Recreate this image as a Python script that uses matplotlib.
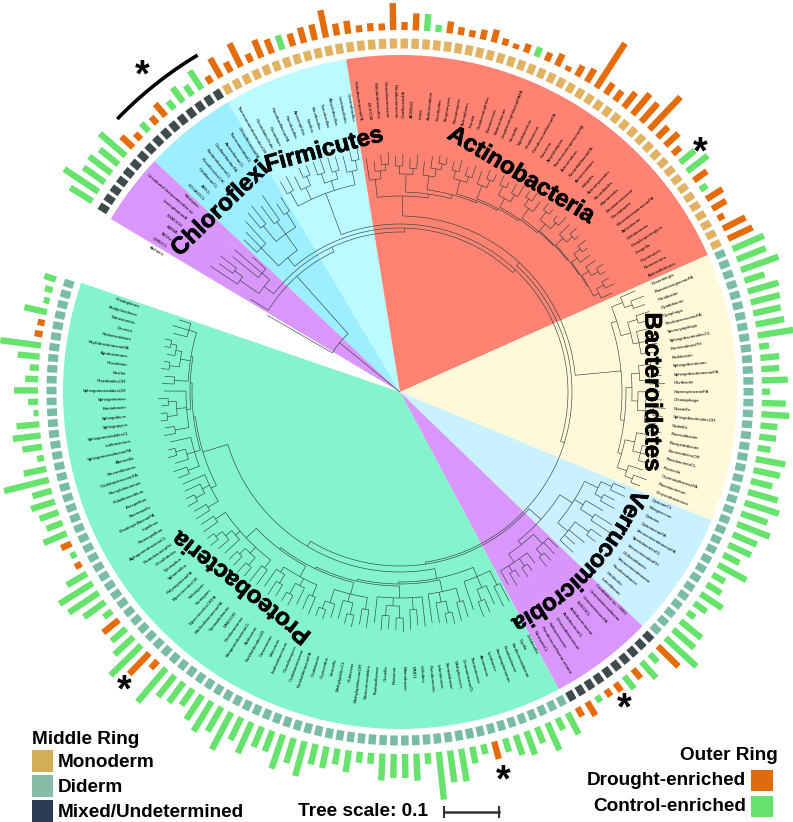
#!/usr/bin/env python3
import numpy as np
import matplotlib
matplotlib.use("Agg")
import matplotlib.pyplot as plt
import matplotlib.patheffects as pe
from matplotlib.collections import LineCollection
from matplotlib.font_manager import FontProperties
from matplotlib.patches import Polygon, Rectangle
from matplotlib.textpath import text_to_path

plt.rcParams['font.family'] = ['Liberation Sans', 'DejaVu Sans']

# ring geometry (pixels, degrees)
CX, CY = 400, 392
WEDGE_R = 337
FIRST_ANGLE = 148.2
STEP = 1.785

clade_names = ["Archaeal", "Chloroflexi", "Firmicutes", "Actinobacteria", "Bacteroidetes",
               "Verrucomicrobia", "Other", "Proteobacteria"]
clade_edges = [149.1, 136.7, 120.7, 99.2, 24.0, -22.4, -44.0, -61.9, -198.9]
clade_colors = ["#D997FB", "#9CEFFF", "#B9FBFF", "#FE8373", "#FFF8D9", "#CAF1FF", "#D997FB", "#83F4CC"]

ring_kinds = ["mixed", "mono", "di", "mixed", "di"]
ring_counts = [16, 54, 38, 10, 77]
ring_colors = {"mixed": "#3E4A4C", "mono": "#E2B263", "di": "#78BCA4"}

# outer ring, bar length in pixels: positive control-enriched, negative drought-enriched
bars_a = [26, 41, 26, 28, 24, 34, -16, -8, 11, -9, -16, 10, 18, 12, 22, -8, -22, -11, -26, -9,
          -19, -15, 15, -13, -16, -16, -28, -12, -13, -7, -8, -7, -27, -8, -17, 17, 7, -12, -8, -7,
          -10, -13, -7, -5, -9, 10, -9, -13, -5, -12, -15, -53, -13, -12, -19, -27, -25, -45, -15, -18]
bars_b = [-10, 19, 26, -16, 8, -19, -16, -7, -25, -27, 34, 31, 40, 21, 32, 30, 28, 29, 36, 10,
          19, 18, 26, 8, 24, 28, 17, 17, 13, 30, 27, 22, 31, 36, 28, 35, 26, 25, 18, 32,
          14, 17, 26, 15, 9, 27, 28, 42, -29, 11, 22, -12, 16, -10, -8, 7, -16, -10, 24, 13]
bars_c = [30, 17, 25, 21, 14, -18, 10, 17, 33, 32, 48, 11, 27, 24, 24, 27, 11, 11, 22, 16,
          22, 21, 36, 26, 36, 22, 22, 34, 25, 42, 28, 35, 29, 20, 25, 27, 44, -10, -29, 43,
          26, 19, -20, 10, 26, 36, 39, 23, -7, 6, -11, 25, 17, 20, 25, 20, 46, 23, 7, 20,
          28, 23, 5, 10, 24, 13, 9, 22, 41, -8, -7, 23, 6, 8, 12]
bar_lengths = bars_a + bars_b + bars_c

outgroup_label = "Archaea"
labels_other = ["CM02CL", "TACKa", "AJMIA", "EXMOCH", "LentisphaeraeA", "Uncultured Verrucomicrobia sp", "Nitrospira"]
labels_chloroflexi = ["SOGA31CL", "ARICL", "CaldilineaeCL", "RoseiflexalesOR", "KtedonobacteriaCL", "OscillochloridaeFA",
                      "AnaerolineaeCL", "ThermomicrobiaCL", "ChloroflexaceaeFA"]
labels_firmicutes = ["ThermoanaerobacteralesOR", "ClostridialesOrder", "Clostridium", "PaenibacillaceaeFA",
                     "Paenibacillus", "Ammoniphilus", "Bacillus", "Brevibacillus", "Tumebacillus", "Alicyclobacillus",
                     "Lactobacillales", "Oceanobacillus"]
labels_actino = ["RubrobacteraceaeFA", "MC47CM", "Solirubrobacterales", "Conexibacteraceae", "Patulibacteraceae",
                 "GaiellaceaeFA", "AKIW543", "Iamia", "Acidimicrobium", "Euzebyales", "Streptomyces", "Kitasatospora",
                 "Actinoplanes", "Frankia", "Geodermatophilus", "Blastococcus", "Modestobacter",
                 "GeodermatophilaceaeFAFA", "Nocardia", "Mycobacterium", "Rhodococcus", "PseudonocardiaceaeFA",
                 "Kutzneria", "Amycolatopsis", "ThermomonosporaceaeFA", "Actinomadura", "NocardioidaceaeFA",
                 "Aeromicrobium", "Kribbella", "Actinomycetales", "Nocardioides", "Marmoricola", "Microbacteriaceae",
                 "Pimelobacter", "MicromonosporaceaeFA", "Arthrobacter", "Cellulomonas", "Dactylosporangium",
                 "Jiangella", "Glycomyces", "Nonomuraea", "Actinoallomurus"]
labels_bacteroidetes = ["Rosenbergia", "FlammeovirgaceaeFA", "Pontibacter", "Dyadobacter", "Cytophaga",
                        "FlexibacteraceaeFA", "Sporocytophaga", "SphingobacterialesCL", "BacteroidetesPH", "Pedobacter",
                        "Sphingobacterium", "SphingobacteriaceaeFA", "Olivibacter", "SaprospiraceaeFA", "Chitinophaga",
                        "Niastella", "SphingobacterialesOR", "Niabella", "Flavisolibacter", "Flavipedobacter",
                        "BacteroidalesOR", "FlavobacteriaCL", "Fluviicola", "CryomorphaceaeFA", "Flavobacterium",
                        "Chryseobacterium"]
labels_verruco = ["OpitutaeCL", "Pelagicoccus", "Opitutus", "OpitutaceaeFA", "VerrucomicrobiaceaeFA", "SpartobacteriaCL",
                  "VerrucomicrobiaPH", "Chthoniobacter", "Verrucomicrobiaceae", "Prosthecobacter", "Haloferula", "Luteolibacter"]
labels_other2 = ["Candidatus sp. CM03", "Gemmatimonadaceae", "GemmatimonasFA", "NKB19CL", "Acidobacteriaceae",
                 "AcidobacteriaCL", "Chloracidobacterium", "Solibacteraceae", "Pseudonocardiaceae-related", "NitrospiraCL"]
labels_proteo = ["Dokdonella", "Dyella", "Xanthomonadaceae", "Rhodanobacter", "Stenotrophomonas", "Lysobacter",
                 "Arenimonas", "Thermomonas", "ChromatiaceaeCL", "Methylococcus", "Steroidobacter", "Lebetimonas",
                 "Pseudomonas", "Cellvibrio", "MND1", "Marinobacter", "Ralstonia", "Coxiella", "Thiobacillaceae",
                 "Nitrosomonadales", "MethylophilaceaeOR", "Rubrivivax", "MethylophilusCL", "Ideonella", "Cupriavidus",
                 "Oxalobacter", "BurkholderiaceaeFA", "Oxalobacteraceae", "Chondromyces", "Janthinobacterium",
                 "Variovorax", "Comamonas", "BurkholderialesOR", "Acidovorax", "BetaproteobacteriaCL", "Dechloromonas",
                 "MND1OR", "Syntrophobacter", "BdellovibrionaceaeFA", "MyxococcalesORFA", "Sorangium", "Haliangium",
                 "MyxococcalesOR", "PolyangiaceaeFA", "Sphaerotilus", "Syntrophus", "Desulfobulus", "ProteobacteriaPH",
                 "AlphaproteobacteriaCL", "Phaeospirillum", "Inquilinus", "RhodospirillaceaeFA", "Skermanella",
                 "Azospirillum", "Rubellimicrobium", "Phenylobacterium", "CaulobacteraceaeFA", "Brevundimonas",
                 "Altererella", "SphingomonadaceaeFA", "Lutibacterium", "SphingomonadalesCL", "Sphingopyxis",
                 "Sphingobium", "Kaistobacter", "Sphingomonas", "SphingomonadalesOR", "RhizobialesOR", "Ensifer",
                 "Rhizobium", "Agrobacterium", "PhyllobacteriaceaeFA", "Pedomicrobium", "Devosia", "Balneimonas",
                 "Bradyrhizobium", "Rhodoplanes"]
leaf_labels = (labels_other + labels_chloroflexi + labels_firmicutes + labels_actino + labels_bacteroidetes
               + labels_verruco + labels_other2 + labels_proteo)

# tree as nested lists: [node radius, child, child, ...], a bare number is a leaf tip radius
tree_other = [172, [195, 228, [205, 222, 225]], [182, 215, 218, 200]]
tree_chloroflexi = [175, [200, 218, 222, 230], [195, [215, 235, 238], [210, 232, 240], [212, 225, 228]]]
tree_firmicutes = [178, [212, [228, 242, 244], [225, 240, [235, 246, 245]], [222, [232, 246, 247], [230, 245, 244]],
                         [226, 243, [236, 246, 248]]]]
tree_actino = [196, [214, 236, [222, 232, [228, 238, 240]]],
               [200, [218, [226, 236, 238], [224, 234, 238]],
                [204, [218, 232, [226, 238, [232, 240, 239]]],
                 [206, [220, [228, 237, 240], [226, 235, 239]],
                  [208, [222, 236, [230, 240, 238]],
                   [210, [220, [230, 240, 236], [228, 238, 241]],
                    [212, [224, [232, 239, 241], 236],
                     [213, [222, [232, 240, 238], [230, 236, 241]],
                      [214, [224, 238, [232, 241, 237]],
                       [215, [222, [230, 240, 236], 234],
                        [216, [224, 236, [232, 240, 238]], [222, [230, 238, 240], 234]]]]]]]]]]]]
tree_bacteroidetes = [222,
                      [228, [240, 256, [248, 262, 260]], [238, [248, 262, 258], [244, 258, [252, 264, 262], 256]]],
                      [226, [232, [240, [252, 264, 262], [250, 262, 265]], [238, 260, [246, 262, [254, 266, 264], 258]]],
                       [230, [240, [250, 264, 262], [248, 260, 266, 258]], [240, 255, [248, 262, 258]]]]]
tree_verruco = [205, [220, [232, 245, 248], [228, 240, 244]], [215, 235, [230, 250, 252]],
                [218, [235, 248, 246], 238, 232, 236]]
tree_other2 = [195, [208, 222, 224, [216, 226, 228]], [205, 218, [214, 222, 225], [212, 220, 226], 221]]
tree_proteo_a = [190, [200, [216, 236, 238], [212, 232, [224, 238, 240]], 230],
                 [192, [204, [218, 235, 237], [214, [226, 238, 236], 234], 233],
                  [194, [206, 236, [218, 234, 238], [214, [226, 240, 238], [224, 237, 239]], 232],
                   [196, [208, [220, 238, 236], [216, [228, 240, 238], 235], [222, 236, [230, 240, 239]]],
                    [198, [210, [222, 240, 238], [218, 236, [230, 241, 240]], [216, [226, 239, 242], 237]],
                     [212, [222, 240, 242], [220, [230, 241, 243], [228, 240, 239]],
                      [218, 238, [226, 240, [234, 244, 242]]], [224, 241, 239]]]]]]]
tree_proteo_b = [206, [212, [224, 240, 238], [220, [230, 241, 239], 237], 236],
                 [208, [214, [226, 238, 240], [222, 236, [232, 241, 239]], 235],
                  [210, [214, [228, 240, 238], [224, [234, 241, 240], [232, 239, 242]], 236],
                   [212, [226, 238, 236], [222, [232, 240, 238], [228, 236, [234, 240, 241]]], [220, 234, 237, 232]]]]]
tree = [78, 153,
        [155, 176,
         [160, tree_other,
          [164, tree_chloroflexi,
           [168, tree_firmicutes,
            [172, [176, tree_actino, tree_bacteroidetes],
             [174, [190, tree_verruco, tree_other2], [180, tree_proteo_a, tree_proteo_b]]]]]]]]

stars = [(142, 76), (700, 153), (624, 709), (124, 691), (503, 781)]
big_labels = [("Actinobacteria", 521, 175, -31), ("Firmicutes", 324, 150, 15), ("Chloroflexi", 220, 209, 44),
              ("Bacteroidetes", 652, 392, -90), ("Proteobacteria", 242, 587, 142)]
BIG_STROKE = [pe.withStroke(linewidth=0.5, foreground='black')]


def pol(r, deg):
    t = np.radians(deg)
    return CX + r * np.cos(t), CY - r * np.sin(t)


def leaf_angle(i):
    return FIRST_ANGLE - STEP * i


fig = plt.figure(figsize=(7.93, 8.22), dpi=100)
ax = fig.add_axes([0, 0, 1, 1])
ax.set_xlim(0, 793)
ax.set_ylim(822, 0)
ax.axis('off')

# clade wedges
for i, color in enumerate(clade_colors):
    arc = np.linspace(clade_edges[i], clade_edges[i + 1], 80)
    pts = [(CX, CY)] + [pol(WEDGE_R, a) for a in arc]
    ax.add_patch(Polygon(pts, closed=True, fc=color, ec='none', zorder=1))

# tree
tree_lines = []
guide_lines = []
leaf_counter = [-1]


def draw_node(node, parent_r):
    if not isinstance(node, list):
        a = leaf_angle(leaf_counter[0])
        leaf_counter[0] += 1
        tree_lines.append([pol(parent_r, a), pol(node, a)])
        guide_lines.append([pol(node, a), pol(272, a)])
        return a
    r = node[0]
    child_a = [draw_node(c, r) for c in node[1:]]
    a = (child_a[0] + child_a[-1]) / 2
    arc = np.linspace(child_a[0], child_a[-1], max(3, int(abs(child_a[0] - child_a[-1])) + 2))
    tree_lines.append([pol(r, x) for x in arc])
    tree_lines.append([pol(parent_r, a), pol(r, a)])
    return a


draw_node(tree, 0)
ax.add_collection(LineCollection(guide_lines, colors='#00000014', linewidths=0.25, linestyles=':', zorder=2))
ax.add_collection(LineCollection(tree_lines, colors='#2b3a3a', linewidths=0.42, zorder=3))

# leaf labels
all_labels = [outgroup_label] + leaf_labels
for i, name in enumerate(all_labels):
    a = leaf_angle(i - 1)
    x, y = pol(274, a)
    left = np.cos(np.radians(a)) < 0
    ax.text(x, y, name, fontsize=3.2, color='black', rotation=a + 180 if left else a,
            rotation_mode='anchor', ha='right' if left else 'left', va='center', zorder=4)

# middle ring
kinds = sum([[k] * n for k, n in zip(ring_kinds, ring_counts)], [])
cells = [[pol(343.5, leaf_angle(i)), pol(353.5, leaf_angle(i))] for i in range(len(kinds))]
ax.add_collection(LineCollection(cells, colors=[ring_colors[k] for k in kinds], linewidths=5.4,
                                 capstyle='butt', zorder=3))

# outer ring
segs = [[pol(362, leaf_angle(i)), pol(362 + abs(v), leaf_angle(i))] for i, v in enumerate(bar_lengths)]
bar_colors = ['#E46C0C' if v < 0 else '#67E26D' for v in bar_lengths]
ax.add_collection(LineCollection(segs, colors=bar_colors, linewidths=4.6, capstyle='butt', zorder=3))

# clade names
for name, x, y, rot in big_labels:
    ax.text(x, y, name, fontsize=17.3, fontweight='bold', color='black', rotation=rot,
            rotation_mode='anchor', ha='center', va='center', zorder=5, path_effects=BIG_STROKE)

# Verrucomicrobia follows the circle
word = "Verrucomicrobia"
fp = FontProperties(family='Liberation Sans', weight='bold')
widths = [text_to_path.get_text_width_height_descent(word[:i], fp, False)[0] if i else 0 for i in range(len(word) + 1)]
for i, ch in enumerate(word):
    frac = (widths[i] + widths[i + 1]) / 2 / widths[-1]
    a = -22.5 + frac * (-64 + 22.5)
    x, y = pol(262, a)
    ax.text(x, y, ch, fontsize=17.3, fontweight='bold', rotation=a - 90, rotation_mode='anchor',
            ha='center', va='center_baseline', zorder=5, path_effects=BIG_STROKE)

# bracket and stars
arc = np.linspace(136, 121, 40)
ax.plot(*zip(*[pol(393, a) for a in arc]), color='black', lw=2.6, solid_capstyle='butt', zorder=5)
for x, y in stars:
    ax.text(x, y, "*", fontsize=27, fontweight='bold', ha='center', va='center', zorder=5)

# legends
LEGEND_SIZE = 13.7
ax.text(32, 739, "Middle Ring", fontsize=LEGEND_SIZE, fontweight='bold', va='center')
legend_rows = [("Monoderm", "#D4AF55", 750), ("Diderm", "#86BBA5", 775), ("Mixed/Undetermined", "#2E3B55", 800)]
for name, color, y in legend_rows:
    ax.add_patch(Rectangle((32, y), 21, 22, fc=color, ec='none'))
    ax.text(58, y + 12, name, fontsize=LEGEND_SIZE, fontweight='bold', va='center')

ax.text(778, 755, "Outer Ring", fontsize=LEGEND_SIZE, fontweight='bold', va='center', ha='right')
ax.text(746, 780, "Drought-enriched", fontsize=LEGEND_SIZE, fontweight='bold', va='center', ha='right')
ax.text(746, 806, "Control-enriched", fontsize=LEGEND_SIZE, fontweight='bold', va='center', ha='right')
ax.add_patch(Rectangle((751, 770), 22, 21, fc='#DF6B0E', ec='none'))
ax.add_patch(Rectangle((751, 796), 22, 21, fc='#67E26D', ec='none'))

ax.text(298, 811, "Tree scale: 0.1", fontsize=LEGEND_SIZE, fontweight='bold', va='center')
ax.plot([444, 499], [812, 812], color='#333333', lw=1.8)
ax.plot([444, 444], [807, 817], color='#333333', lw=1.5)
ax.plot([499, 499], [807, 817], color='#333333', lw=1.5)

fig.savefig("out.png", dpi=100)
